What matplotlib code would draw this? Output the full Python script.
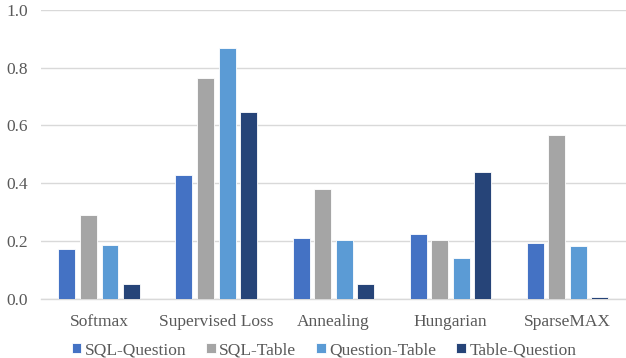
import numpy as np
import matplotlib.pyplot as plt

plt.rcParams['font.family'] = ['Liberation Serif', 'DejaVu Serif']

# data
methods = ['Softmax', 'Supervised Loss', 'Annealing', 'Hungarian', 'SparseMAX']
series = ['SQL-Question', 'SQL-Table', 'Question-Table', 'Table-Question']
sql_question = [0.172, 0.428, 0.211, 0.226, 0.195]
sql_table = [0.290, 0.763, 0.379, 0.202, 0.567]
question_table = [0.188, 0.869, 0.205, 0.142, 0.182]
table_question = [0.052, 0.645, 0.052, 0.438, 0.007]
colors = ['#4472C4', '#A5A5A5', '#5B9BD5', '#264478']

fig = plt.figure(figsize=(6.26, 3.58), dpi=100)
ax = fig.add_axes([0.065, 0.165, 0.935, 0.808])

x = np.arange(len(methods))
pitch = 0.184
for i, (vals, name) in enumerate(zip([sql_question, sql_table, question_table, table_question], series)):
    ax.bar(x + (i - 1.5) * pitch, vals, width=0.145, color=colors[i], label=name,
           edgecolor='white', linewidth=0.6, zorder=3)

ax.set_xlim(-0.5, len(methods) - 0.5)
ax.set_ylim(0, 1.0)
ax.set_yticks(np.arange(0, 1.01, 0.2))
ax.set_yticklabels(['%.1f' % v for v in np.arange(0, 1.01, 0.2)])
ax.set_xticks(x)
ax.set_xticklabels(methods)
ax.yaxis.grid(True, color='#D9D9D9', linewidth=1.0, zorder=0)
for s in ['top', 'right', 'left']:
    ax.spines[s].set_visible(False)
ax.spines['bottom'].set_color('#D9D9D9')
ax.spines['bottom'].set_linewidth(1.0)
ax.tick_params(axis='both', length=0, labelsize=12.5, colors='#595959', pad=9)
ax.tick_params(axis='x', pad=11)

ax.legend(loc='upper center', bbox_to_anchor=(0.484, -0.095), ncol=4, frameon=False,
          fontsize=12.5, labelcolor='#595959', handlelength=0.55, handleheight=0.55,
          handletextpad=0.2, columnspacing=1.15)

fig.savefig('out.png', dpi=100)
